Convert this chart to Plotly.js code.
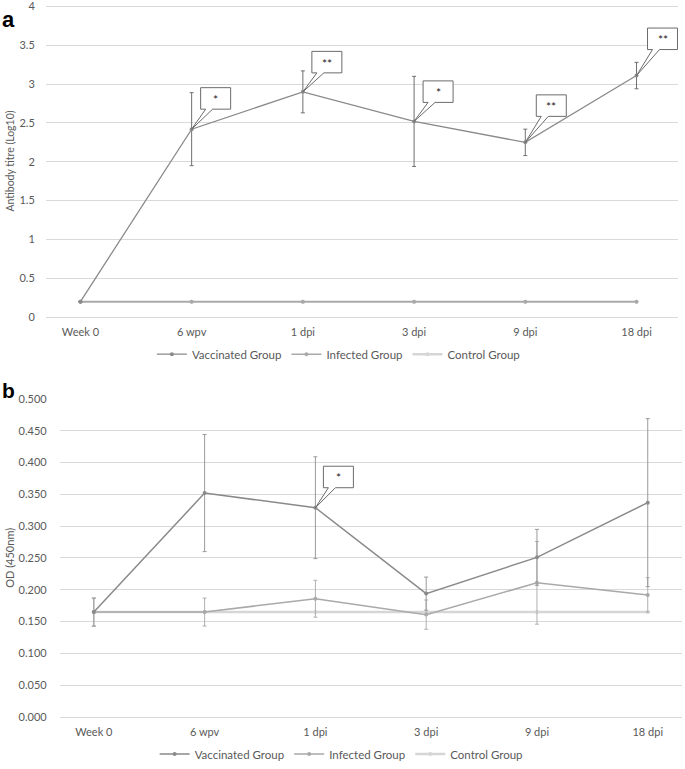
<!DOCTYPE html>
<html>
<head>
<meta charset="utf-8">
<script src="https://cdn.plot.ly/plotly-3.0.1.min.js"></script>
<style>html,body{margin:0;padding:0;background:#fff;}#chart{width:685px;height:769px;}</style>
</head>
<body>
<div id="chart"></div>
<script>
// ---------- DATA ----------
const categories = ['Week 0', '6 wpv', '1 dpi', '3 dpi', '9 dpi', '18 dpi'];
const seriesNames = ['Vaccinated Group', 'Infected Group', 'Control Group'];

// Panel a: Antibody titre (Log10)
const titreVaccinated    = [0.20, 2.42, 2.90, 2.52, 2.25, 3.11];
const titreVaccinatedErr = [0.00, 0.47, 0.27, 0.58, 0.17, 0.17];
const titreInfected      = [0.20, 0.20, 0.20, 0.20, 0.20, 0.20];
const titreControl       = [0.20, 0.20, 0.20, 0.20, 0.20, 0.20];
const sigA = ['', '*', '**', '*', '**', '**'];
const titreTicks = [0, 0.5, 1, 1.5, 2, 2.5, 3, 3.5, 4];
const titreTickText = ['0', '0.5', '1', '1.5', '2', '2.5', '3', '3.5', '4'];

// Panel b: OD (450nm)
const odVaccinated    = [0.165, 0.352, 0.329, 0.194, 0.251, 0.337];
const odVaccinatedErr = [0.022, 0.092, 0.080, 0.026, 0.044, 0.132];
const odInfected      = [0.165, 0.165, 0.186, 0.161, 0.211, 0.192];
const odInfectedErr   = [0.022, 0.022, 0.029, 0.023, 0.065, 0.027];
const odControl       = [0.165, 0.165, 0.165, 0.165, 0.165, 0.165];
const sigB = ['', '', '*', '', '', ''];

// ---------- STYLE ----------
const FONT = 'Lato, "Open Sans", sans-serif';
const TXT = '#595959';
const GRID = '#d9d9d9';
const colVac = '#8a8a8a', colInf = '#a9a9a9', colCtl = '#d6d6d6';
// callout placement in pixels relative to the data point: [dx, up]
const calloutA = [null, [9, 20], [9, 19], [9, 19], [11, 26], [11, 26]];
const calloutB = [null, null, [8, 20], null, null, null];
const BOXW = 30, BOXH = 21.5;

function trace(y, err, name, color, width, xa, ya, leg, errColor) {
  const t = {
    type: 'scatter', mode: 'lines+markers', x: categories, y: y, name: name,
    xaxis: xa, yaxis: ya, legend: leg, showlegend: true,
    line: {color: color, width: width},
    marker: {color: color, size: 4, symbol: 'circle'}
  };
  if (err) t.error_y = {type: 'data', array: err, symmetric: true, color: errColor, thickness: 1, width: 2};
  return t;
}

const data = [
  trace(titreControl, null, seriesNames[2], colCtl, 2.5, 'x', 'y', 'legend', null),
  trace(titreInfected, null, seriesNames[1], colInf, 1.5, 'x', 'y', 'legend', null),
  trace(titreVaccinated, titreVaccinatedErr, seriesNames[0], colVac, 1.3, 'x', 'y', 'legend', '#6f6f6f'),
  trace(odControl, null, seriesNames[2], colCtl, 2.5, 'x2', 'y2', 'legend2', null),
  trace(odInfected, odInfectedErr, seriesNames[1], colInf, 1.5, 'x2', 'y2', 'legend2', '#b0b0b0'),
  trace(odVaccinated, odVaccinatedErr, seriesNames[0], colVac, 1.5, 'x2', 'y2', 'legend2', '#9a9a9a')
];
data[0].legendrank = 3; data[1].legendrank = 2; data[2].legendrank = 1;
data[3].legendrank = 3; data[4].legendrank = 2; data[5].legendrank = 1;

const shapes = [], annotations = [];
function addCallouts(sig, vals, offs, xref, yref) {
  sig.forEach((s, i) => {
    if (!s || !offs[i]) return;
    const dx = offs[i][0], up = offs[i][1];
    const path = `M0,0 L${dx + 5},${up} L${dx},${up} L${dx},${up + BOXH} L${dx + BOXW},${up + BOXH} L${dx + BOXW},${up} L${dx + 12},${up} Z`;
    shapes.push({
      type: 'path', xref: xref, yref: yref, xsizemode: 'pixel', ysizemode: 'pixel',
      xanchor: categories[i], yanchor: vals[i], path: path,
      fillcolor: '#ffffff', line: {color: '#6b6b6b', width: 1}, layer: 'above'
    });
    annotations.push({
      xref: xref, yref: yref, x: categories[i], y: vals[i], text: s, showarrow: false,
      xshift: dx + BOXW / 2, yshift: up + BOXH / 2 - 1,
      font: {family: FONT, size: 12, color: '#222'}
    });
  });
}
addCallouts(sigA, titreVaccinated, calloutA, 'x', 'y');
addCallouts(sigB, odVaccinated, calloutB, 'x2', 'y2');

annotations.push({xref: 'paper', yref: 'paper', x: 0, y: 1, xanchor: 'left', yanchor: 'top', yshift: -5,
  text: '<b>a</b>', showarrow: false, font: {family: 'Arial, "Liberation Sans", sans-serif', size: 22, color: '#000'}});
annotations.push({xref: 'paper', yref: 'paper', x: 0, y: 0.5065, xanchor: 'left', yanchor: 'top',
  text: '<b>b</b>', showarrow: false, font: {family: 'Arial, "Liberation Sans", sans-serif', size: 21, color: '#000'}});

const tickFont = {family: FONT, size: 11, color: TXT};
const legFont = {family: FONT, size: 11.5, color: TXT};
const layout = {
  width: 685, height: 769,
  margin: {l: 0, r: 0, t: 0, b: 0},
  paper_bgcolor: '#fff', plot_bgcolor: '#fff',
  font: {family: FONT, color: TXT},
  xaxis: {domain: [0.0669, 0.9898], anchor: 'y', type: 'category', showgrid: false, showline: false,
    ticks: '', tickfont: tickFont, ticklabelstandoff: 7},
  yaxis: {domain: [0.5843, 0.99363], anchor: 'x', range: [0, 4.02],
    tickmode: 'array', tickvals: titreTicks, ticktext: titreTickText,
    showgrid: true, gridcolor: GRID, ticklabeloverflow: 'allow',
    zeroline: true, zerolinecolor: GRID, zerolinewidth: 1, showline: false, ticks: '', tickfont: tickFont,
    ticklabelstandoff: 10, title: {text: 'Antibody titre (Log10)', font: {family: FONT, size: 10.5, color: TXT}, standoff: 2}},
  xaxis2: {domain: [0.0872, 0.9954], anchor: 'y2', type: 'category', showgrid: false, showline: false,
    ticks: '', tickfont: tickFont, ticklabelstandoff: 7},
  yaxis2: {domain: [0.0602, 0.4776], anchor: 'x2', range: [0, 0.5005], dtick: 0.05, tickformat: '.3f', showgrid: true,
    gridcolor: GRID, zeroline: true, zerolinecolor: GRID, zerolinewidth: 1, showline: false, ticks: '',
    tickfont: tickFont, ticklabelstandoff: 12, ticklabeloverflow: 'allow',
    title: {text: 'OD (450nm)', font: {family: FONT, size: 11, color: TXT}, standoff: 1}},
  legend: {orientation: 'h', x: 0.494, xanchor: 'center', y: 0.5358, yanchor: 'middle',
    font: legFont, itemwidth: 30, bgcolor: 'rgba(0,0,0,0)'},
  legend2: {orientation: 'h', x: 0.498, xanchor: 'center', y: 0.0117, yanchor: 'middle',
    font: legFont, itemwidth: 30, bgcolor: 'rgba(0,0,0,0)'},
  shapes: shapes, annotations: annotations, showlegend: true
};

Plotly.newPlot('chart', data, layout, {displayModeBar: false, staticPlot: true});
</script>
</body>
</html>
